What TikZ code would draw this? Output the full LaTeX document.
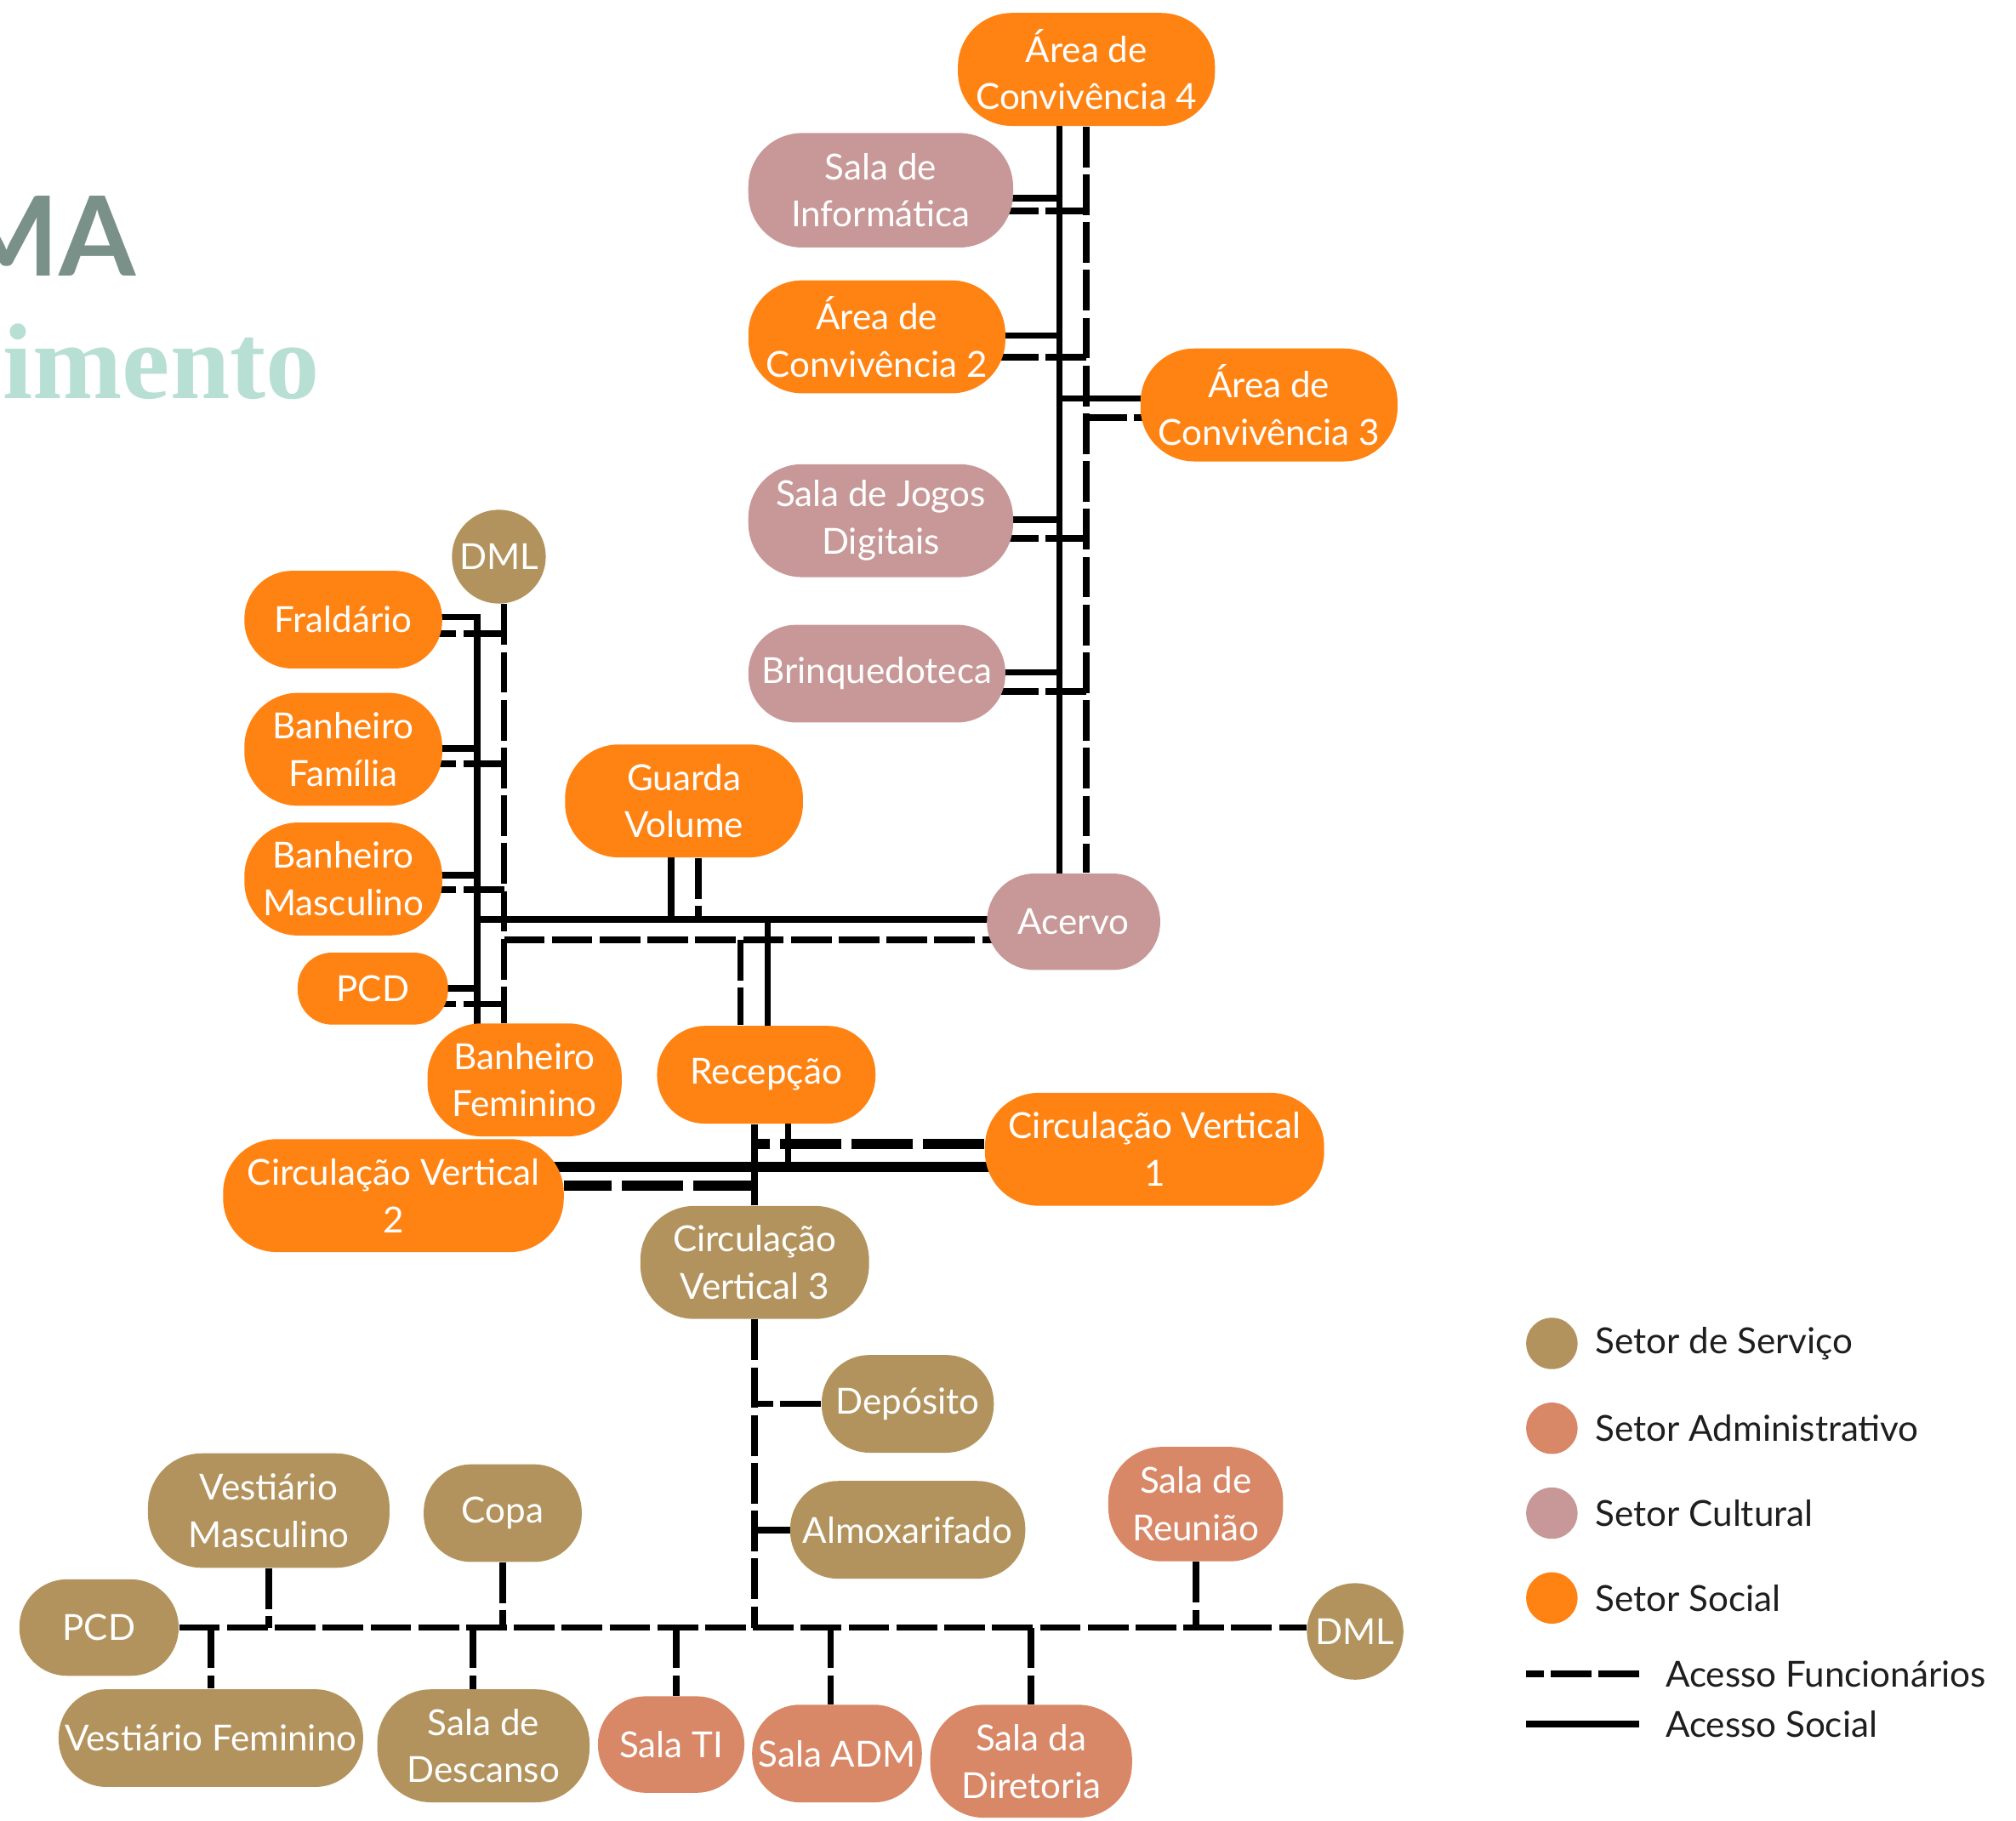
\documentclass[tikz,border=0pt]{standalone}
\usepackage{fontspec}
\setmainfont{Lato}
\newfontfamily\titleserif{Liberation Serif}
\usepackage{xcolor}
\definecolor{csocial}{HTML}{FF8313}
\definecolor{ccultural}{HTML}{C79897}
\definecolor{cservice}{HTML}{B3935D}
\definecolor{cadmin}{HTML}{D88767}
\definecolor{ctitle}{HTML}{7A918A}
\definecolor{cmint}{HTML}{B8DFD4}
\definecolor{cink}{HTML}{1E1E1E}
\usepackage{tikz}
\usetikzlibrary{positioning}
\pgfdeclarelayer{background}
\pgfsetlayers{background,main}
\tikzset{
x=0.0151148cm, y=-0.0151148cm,
node distance=43.4pt,
Room/.style={
	align=center,
	text=white,
	font=\fontsize{12}{15.9}\selectfont,
	rounded corners=16pt,
	inner sep=1pt
},
SocialRoom/.style={
	Room,
	fill=csocial
},
CulturalRoom/.style={
	Room,
	fill=ccultural
},
ServiceRoom/.style={
	Room,
	fill=cservice
},
AdminRoom/.style={
	Room,
	fill=cadmin
},
Key/.style={
	circle,
	minimum size=17.2pt,
	inner sep=0pt
},
KeyText/.style={
	text=cink,
	inner sep=0pt,
	font=\fontsize{12}{15}\selectfont
},
SocialEdge/.style={
	draw=black,
	line width=2.2pt
},
StaffEdge/.style={
	SocialEdge,
	dash pattern=on 13.6pt off 2.4pt
},
WideSocialEdge/.style={
	SocialEdge,
	line width=3.4pt
},
WideStaffEdge/.style={
	WideSocialEdge,
	dash pattern=on 20.5pt off 3.4pt
}
}

\begin{document}
\begin{tikzpicture}
	\useasboundingbox (0,0) rectangle (1568,1416);
	\clip (0,0) rectangle (1568,1416);

	% title, cut by the page edge
	\node[anchor=base east, inner sep=0pt, text=ctitle, font=\fontsize{37}{40}\selectfont\bfseries] (ttlA) at (106,215) {MA};
	\node[anchor=base east, inner sep=0pt, text=cmint, font=\titleserif\bfseries\fontsize{36}{40}\selectfont] (ttlB) at (249,310) {imento};

	% upper wing
	\node[SocialRoom, minimum width=86pt, minimum height=37.8pt, rounded corners=18pt] (AC4) at (845,54) {Área de\\Convivência 4};
	\node[CulturalRoom, minimum width=88.6pt, minimum height=38.3pt, rounded corners=18pt] (SI) at (685,148) {Sala de\\Informática};
	\node[SocialRoom, minimum width=86pt, minimum height=37.8pt, rounded corners=18pt] (AC2) at (682,262) {Área de\\Convivência 2};
	\node[SocialRoom, minimum width=86pt, minimum height=37.8pt, rounded corners=18pt] (AC3) at (987,315) {Área de\\Convivência 3};
	\node[CulturalRoom, minimum width=88.6pt, minimum height=37.8pt, rounded corners=18pt] (SJD) at (685,405) {Sala de Jogos\\Digitais};
	\node[CulturalRoom, minimum width=86pt, minimum height=32.7pt] (BQ) at (682,524) {Brinquedoteca};
	\node[CulturalRoom, minimum width=58pt, minimum height=32.3pt] (AV) at (835,717) {Acervo};

	% toilets and entrance
	\node[ServiceRoom, circle, minimum size=31.4pt, inner sep=0pt] (DML) at (388,433) {DML};
	\node[SocialRoom, minimum width=66.2pt, minimum height=32.7pt] (FR) at (267,482) {Fraldário};
	\node[SocialRoom, minimum width=66.2pt, minimum height=37.8pt, rounded corners=18pt, below of=FR] (BF) {Banheiro\\Família};
	\node[SocialRoom, minimum width=66.2pt, minimum height=37.8pt, rounded corners=18pt, below of=BF] (BM) {Banheiro\\Masculino};
	\node[SocialRoom, minimum width=50.3pt, minimum height=24.1pt, rounded corners=11.5pt] (PCD) at (290,769) {PCD};
	\node[SocialRoom, minimum width=65pt, minimum height=37.8pt, rounded corners=18pt] (BFe) at (408,840) {Banheiro\\Feminino};
	\node[SocialRoom, minimum width=79.6pt, minimum height=37.8pt, rounded corners=18pt] (GV) at (532,623) {Guarda\\Volume};
	\node[SocialRoom, minimum width=73.1pt, minimum height=32.7pt] (RC) at (596,836) {Recepção};
	\node[SocialRoom, minimum width=113.5pt, minimum height=37.8pt, rounded corners=18pt] (CV1) at (898,894) {Circulação Vertical\\1};
	\node[SocialRoom, minimum width=114pt, minimum height=37.8pt, rounded corners=18pt] (CV2) at (306,930) {Circulação Vertical\\2};
	\node[ServiceRoom, minimum width=76.5pt, minimum height=37.8pt, rounded corners=18pt] (CV3) at (587,982) {Circulação\\Vertical 3};

	% service floor
	\node[ServiceRoom, minimum width=57.6pt, minimum height=32.7pt] (DP) at (706,1092) {Depósito};
	\node[ServiceRoom, minimum width=78.7pt, minimum height=32.7pt] (AX) at (706,1190) {Almoxarifado};
	\node[AdminRoom, minimum width=58.5pt, minimum height=38.3pt, rounded corners=18pt] (SR) at (930,1170) {Sala de\\Reunião};
	\node[ServiceRoom, minimum width=80.8pt, minimum height=38.3pt, rounded corners=18pt] (VM) at (209,1175) {Vestiário\\Masculino};
	\node[ServiceRoom, minimum width=52.9pt, minimum height=32.7pt] (CP) at (391,1177) {Copa};
	\node[ServiceRoom, minimum width=53.3pt, minimum height=32.3pt] (PCDb) at (77,1266) {PCD};
	\node[ServiceRoom, circle, minimum size=32.3pt, inner sep=0pt] (DMLb) at (1054,1269) {DML};
	\node[ServiceRoom, minimum width=101.9pt, minimum height=32.7pt] (VF) at (164,1352) {Vestiário Feminino};
	\node[ServiceRoom, minimum width=71pt, minimum height=37.8pt, rounded corners=18pt] (SD) at (376,1358) {Sala de\\Descanso};
	\node[AdminRoom, minimum width=49pt, minimum height=32.3pt] (TI) at (522,1357) {Sala TI};
	\node[AdminRoom, minimum width=56.8pt, minimum height=32.7pt] (ADM) at (651,1364) {Sala ADM};
	\node[AdminRoom, minimum width=67.5pt, minimum height=37.8pt, rounded corners=18pt] (DIR) at (802,1370) {Sala da\\Diretoria};

	% legend
	\node[Key, fill=cservice, label={[KeyText, xshift=5.6pt]right:Setor de Serviço}] (kServ) at (1207,1045) {};
	\node[Key, fill=cadmin, label={[KeyText, xshift=5.6pt]right:Setor Administrativo}] (kAdm) at (1207,1111) {};
	\node[Key, fill=ccultural, label={[KeyText, xshift=5.6pt]right:Setor Cultural}] (kCult) at (1207,1177) {};
	\node[Key, fill=csocial, label={[KeyText, xshift=5.6pt]right:Setor Social}] (kSoc) at (1207,1243) {};
	\coordinate (kF1) at (1187,1302);
	\coordinate (kF2) at (1275,1302);
	\coordinate (kS1) at (1187,1341);
	\coordinate (kS2) at (1275,1341);
	\node[KeyText, right=8.6pt of kF2] (kFtxt) {Acesso Funcionários};
	\node[KeyText, right=8.6pt of kS2] (kStxt) {Acesso Social};

	% lanes
	\coordinate (tS) at (824,0);
	\coordinate (tF) at (845,0);
	\coordinate (lS) at (371,0);
	\coordinate (lF) at (392,0);
	\coordinate (cS) at (613,0);
	\coordinate (cF) at (587,0);
	\coordinate (hS) at (0,715);
	\coordinate (hF) at (0,731);
	\coordinate (vF) at (0,890);
	\coordinate (vS) at (0,908);
	\coordinate (vF2) at (0,922);
	\coordinate (bus) at (0,1266);

	\begin{pgfonlayer}{background}
	\draw[SocialEdge] (tS |- AC4) -- (tS |- AV);
	\draw[StaffEdge] (tF |- AC4.south) -- (tF |- AV.north);
	\draw[SocialEdge] (SI.center |- 0,154) -- (tS |- 0,154);
	\draw[StaffEdge] (tF |- 0,164) -- (SI.center |- 0,164);
	\draw[SocialEdge] (AC2.center |- 0,261) -- (tS |- 0,261);
	\draw[StaffEdge] (tF |- 0,278) -- (AC2.center |- 0,278);
	\draw[SocialEdge] (tS |- 0,310) -- (AC3.center |- 0,310);
	\draw[StaffEdge] (tF |- 0,325) -- (AC3.center |- 0,325);
	\draw[SocialEdge] (SJD.center |- 0,404) -- (tS |- 0,404);
	\draw[StaffEdge] (tF |- 0,419) -- (SJD.center |- 0,419);
	\draw[SocialEdge] (BQ.center |- 0,523) -- (tS |- 0,523);
	\draw[StaffEdge] (tF |- 0,538) -- (BQ.center |- 0,538);

	\draw[SocialEdge] (FR.center |- 0,480) -- (lS |- 0,480) -- (lS |- BFe);
	\draw[StaffEdge] (lF |- DML.south) -- (lF |- BFe.north);
	\draw[StaffEdge] (lF |- 0,493) -- (FR.center |- 0,493);
	\draw[SocialEdge] (BF.center |- 0,582) -- (lS |- 0,582);
	\draw[StaffEdge] (lF |- 0,594) -- (BF.center |- 0,594);
	\draw[SocialEdge] (BM.center |- 0,681) -- (lS |- 0,681);
	\draw[StaffEdge] (lF |- 0,692) -- (BM.center |- 0,692);
	\draw[SocialEdge] (PCD.center |- 0,769) -- (lS |- 0,769);
	\draw[StaffEdge] (lF |- 0,781) -- (PCD.center |- 0,781);

	\draw[SocialEdge] (lS |- hS) -- (AV.center |- hS);
	\draw[StaffEdge] (lF |- hF) -- (AV.center |- hF);
	\draw[SocialEdge] (522,0 |- GV) -- (522,0 |- hS);
	\draw[StaffEdge] (543,0 |- GV.south) -- (543,0 |- hS);
	\draw[SocialEdge] (597,0 |- hS) -- (597,0 |- RC);
	\draw[StaffEdge] (576,0 |- hF) -- (576,0 |- RC.north);

	\draw[SocialEdge] (cS |- RC) -- (cS |- vS);
	\draw[StaffEdge] (cF |- RC.south) -- (cF |- CV3.north);
	\draw[WideStaffEdge] (CV1.west |- vF) -- (cF |- vF);
	\draw[WideSocialEdge] (CV2.center |- vS) -- (CV1.center |- vS);
	\draw[WideStaffEdge] (cF |- vF2) -- (CV2.east |- vF2);

	\draw[StaffEdge] (cF |- CV3.south) -- (cF |- bus);
	\draw[StaffEdge] (DP.west) -- (cF |- DP);
	\draw[SocialEdge] (cF |- AX) -- (AX.center);
	\draw[StaffEdge] (PCDb.east) -- (PCDb.east -| DMLb.west);
	\draw[StaffEdge] (VM.south) -- (VM.south |- bus);
	\draw[StaffEdge] (CP.south) -- (CP.south |- bus);
	\draw[StaffEdge] (SR.south) -- (SR.south |- bus);
	\draw[StaffEdge] (VF.north |- bus) -- (VF.north);
	\draw[StaffEdge] (368,0 |- bus) -- (368,0 |- SD.north);
	\draw[StaffEdge] (526,0 |- bus) -- (526,0 |- TI.north);
	\draw[StaffEdge] (646,0 |- bus) -- (646,0 |- ADM.north);
	\draw[StaffEdge] (DIR.north |- bus) -- (DIR.north);

	\draw[StaffEdge] (kF2) -- (kF1);
	\draw[SocialEdge] (kS1) -- (kS2);
	\end{pgfonlayer}
\end{tikzpicture}
\end{document}
